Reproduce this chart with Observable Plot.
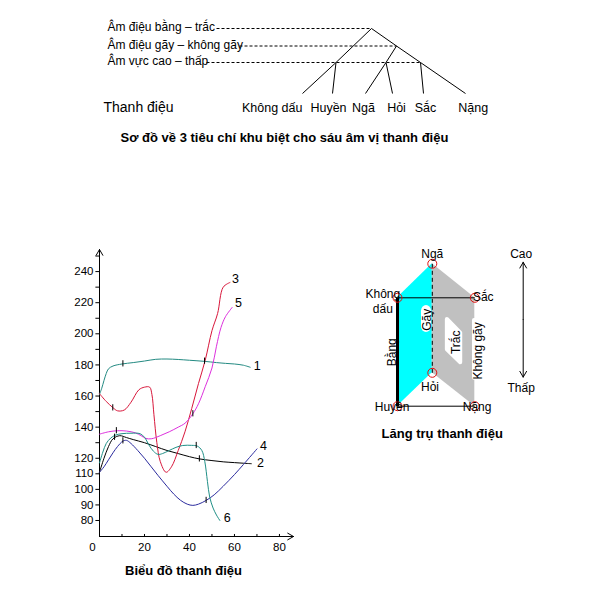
<!DOCTYPE html>
<html><head><meta charset="utf-8">
<script src="https://cdn.jsdelivr.net/npm/d3@7"></script>
<script src="https://cdn.jsdelivr.net/npm/@observablehq/plot@0.6"></script>
<style>
body{margin:0;background:#fff;}
#wrap{position:relative;width:598px;height:596px;background:#fff;}
#wrap svg{position:absolute;left:0;top:0;}
</style></head><body><div id="wrap"></div>
<script>
const FONT = "'Liberation Sans', Arial, sans-serif";

// ================= DATA =================
// --- Tree diagram (layout units) ---
const criteria = ["Âm điệu bằng – trắc", "Âm điệu gãy – không gãy", "Âm vực cao – thấp"];
const criteriaY = [28, 45.5, 62];
const criteriaTextX = 107;
const criteriaDashStart = [216, 239, 206];
const criteriaNode = ["A", "B", "C"];
const treeNodes = {A:[371,28], B:[396,45.5], C:[420,62], D:[335.5,62], E:[385.5,62],
  "Không dấu":[302,93], "Huyền":[332,93], "Ngã":[365,93], "Hỏi":[392,93], "Sắc":[423,93], "Nặng":[465,93]};
const treeEdges = [["A","B"],["B","C"],["C","Nặng"],["A","D"],["D","Không dấu"],["D","Huyền"],
  ["B","E"],["E","Ngã"],["E","Hỏi"],["C","Sắc"]];
const tones = ["Không dấu","Huyền","Ngã","Hỏi","Sắc","Nặng"];
const toneLabelX = [271.7, 328, 363, 396, 425, 472.7];
const toneLabelY = 107;
const treeTitle = "Sơ đồ về 3 tiêu chí khu biệt cho sáu âm vị thanh điệu";
const treeLabel = "Thanh điệu";

// --- Line chart ---
const seriesNames = ["1","2","3","4","5","6"];
const seriesColors = ["#238a82","#000000","#d8163a","#2b2b9e","#dd30dd","#1f8f86"];
const curve1 = [[0,161],[1,165],[2,170],[3,174.5],[4,177.5],[6,179.3],[10,180.6],[15,181.5],[20,182.5],[25,183.6],[30,183.8],[35,183.5],[40,183],[46.7,182.3],[52,181.5],[56,181],[60,180.6],[64,179.8],[67,178.5]];
const curve2 = [[0,111],[2,120],[4,127.5],[6,132.5],[9,134.5],[12,133.3],[15,132],[20,130],[25,127.5],[30,125],[35,123],[40,121],[44.4,119.6],[50,118.5],[55,117.7],[60,117.2],[64,116.8],[67.5,116.5]];
const curve3 = [[0,161.5],[3,156.5],[6,152.5],[8,150.5],[11,151],[14,156],[17.5,164],[20,165.7],[22.3,165.7],[23.3,161],[24.2,148],[25.5,130],[27,118],[29.6,111],[32,114.5],[35,125],[38,137],[41,152],[44,168],[47,183],[50,202],[52.5,213],[55,230],[58,233]];
const curve4 = [[0,111],[2,114.5],[4,119],[6,123.5],[8,127.5],[10.4,131],[12,131.5],[14,129.5],[17,125],[20,120],[23,114.5],[26,109],[30,102],[33,97],[36,93],[39,90.5],[41.5,89.7],[44,90.5],[47.4,92.9],[51,96.5],[55,102],[60,109.5],[64,116],[70,126]];
const curve5 = [[0,135.5],[4,137],[8,137.7],[12,137.5],[16,136.3],[18.5,134.5],[20.5,132.8],[23,132.5],[27,134.5],[31,137],[35,140],[38,142.5],[41.5,148.6],[44,155],[47,166],[50,178],[52,192],[54,204],[56,211],[59,217]];
const curve6 = [[0,117],[1.5,124],[3,129.5],[5,133],[7,134.8],[10,135.8],[14,136.1],[18,135.8],[20,133.5],[22,128.5],[24,124.5],[26,122.5],[28,123],[31,125],[34,127],[37,128.2],[41,128.3],[43.5,127.8],[45.5,125],[46.8,118],[48,105],[49,95],[50.5,88],[52,83.5],[53.5,80]];
const curveMarks = [["1",10.4,180.7],["1",46.7,182.4],["3",5.9,152.4],["5",7.5,137.7],["5",41.5,148.6],
  ["2",6.7,133.5],["2",44.4,119.6],["4",10.4,131.2],["4",47.4,92.9],["6",43,128.2]];
const seriesLabelPos = [["1",70.1,179.6],["2",71.6,116.8],["3",60.5,235.5],["4",72.9,128.2],["5",61.8,219.5],["6",56.8,81.3]];
const yTicks = [80,90,100,110,120,130,140,150,160,170,180,190,200,210,220,230,240,250];
const yTickLabels = [80,90,100,110,120,140,160,180,200,220,240];
const xTicks = [10,20,30,40,50,60,70,80];
const xTickLabels = [20,40,60,80];
const chartTitle = "Biểu đồ thanh điệu";
const yBase = 69.7, yTop = 254.2, xEnd = 86.25;

// --- Prism ---
const prismNodes = [["Ngã",0.45,1.314],["Không dấu",0,1],["Sắc",1,1],["Hỏi",0.45,0.308],["Huyền",0,0],["Nặng",1,0]];
const prismLabels = [["Ngã",0.45,1.41,"middle"],["Không\ndấu",-0.19,0.97,"middle"],["Sắc",1.109,1.01,"start"],
  ["Hỏi",0.42,0.18,"middle"],["Huyền",-0.07,0,"end"],["Nặng",1.03,0,"start"],["Cao",1.6,1.406,"middle"],["Thấp",1.6,0.175,"middle"]];
const faceLabels = [["Bằng",-0.069,0.498],["Gãy",0.388,0.797],["Trắc",0.755,0.59],["Không gãy",1.041,0.51]];
const prismTitle = "Lăng trụ thanh điệu";

// ================= BUILD =================
const wrap = document.getElementById("wrap");
const style = {background:"transparent", fontFamily:FONT, overflow:"visible", color:"black"};

// ---- Tree plot ----
const treeEdgeRows = treeEdges.map(([a,b]) => ({x1:treeNodes[a][0], y1:treeNodes[a][1], x2:treeNodes[b][0], y2:treeNodes[b][1]}));
const dashRows = criteria.map((c,i) => ({x1:criteriaDashStart[i], x2:treeNodes[criteriaNode[i]][0], y:criteriaY[i]}));
const tree = Plot.plot({
  width:598, height:596, margin:0, style,
  x:{domain:[0,598], range:[0,598], axis:null},
  y:{domain:[0,596], range:[0,596], axis:null},
  marks:[
    Plot.link(dashRows, {x1:"x1", x2:"x2", y1:"y", y2:"y", stroke:"black", strokeDasharray:"3,2", strokeWidth:1}),
    Plot.link(treeEdgeRows, {x1:"x1", y1:"y1", x2:"x2", y2:"y2", stroke:"black", strokeWidth:1}),
    Plot.text(criteria, {x:criteriaTextX, y:(d,i)=>criteriaY[i], dy:-1, text:d=>d, textAnchor:"start", fontSize:12}),
    Plot.text(tones, {x:(d,i)=>toneLabelX[i], y:toneLabelY, text:d=>d, fontSize:12.5}),
    Plot.text([treeLabel], {x:103, y:toneLabelY, text:d=>d, textAnchor:"start", fontSize:14}),
    Plot.text([treeTitle], {x:284, y:137, text:d=>d, fontSize:13, fontWeight:"bold"})
  ]
});
wrap.appendChild(tree);

// ---- Line chart ----
const allCurves = [curve1,curve2,curve3,curve4,curve5,curve6];
const rows = allCurves.flatMap((c,i) => c.map(([x,y]) => ({s:seriesNames[i], x, y})));
const colorOf = s => seriesColors[seriesNames.indexOf(s)];
const chart = Plot.plot({
  width:598, height:596, marginLeft:99, marginRight:305, marginTop:249, marginBottom:60, style,
  x:{domain:[0,xEnd], axis:null},
  y:{domain:[yBase,yTop], axis:null},
  marks:[
    Plot.ruleY(yTicks, {y:d=>d, x1:-1.6, x2:0, stroke:"black"}),
    Plot.text(yTickLabels, {y:d=>d, x:0, dx:-6, text:d=>String(d), textAnchor:"end", fontSize:11.5}),
    Plot.ruleX(xTicks, {x:d=>d, y1:yBase, y2:yBase+1.3, stroke:"black"}),
    Plot.text(xTickLabels, {x:d=>d, y:yBase, dy:11, text:d=>String(d), fontSize:11.5}),
    Plot.text([0], {x:0, y:yBase, dx:-7, dy:11, text:d=>String(d), fontSize:11.5}),
    Plot.arrow([{x1:0,y1:yBase,x2:xEnd,y2:yBase},{x1:0,y1:yBase,x2:0,y2:yTop}],
      {x1:"x1", y1:"y1", x2:"x2", y2:"y2", stroke:"black", strokeWidth:1, headLength:10}),
    Plot.line(rows, {x:"x", y:"y", z:"s", stroke:d=>colorOf(d.s), curve:"catmull-rom", strokeWidth:1}),
    Plot.ruleX(curveMarks, {x:d=>d[1], y1:d=>d[2]-2, y2:d=>d[2]+2, stroke:"black", strokeWidth:1}),
    Plot.text(seriesLabelPos, {x:d=>d[1], y:d=>d[2], text:d=>d[0], fontSize:12.5}),
    Plot.text([chartTitle], {frameAnchor:"bottom", dx:-13, dy:38, text:d=>d, fontSize:13, fontWeight:"bold"})
  ]
});
wrap.appendChild(chart);

// ---- Prism ----
const P = Object.fromEntries(prismNodes.map(([n,x,y]) => [n,[x,y]]));
const cyanFace = [{x:P["Không dấu"][0], y1:P["Huyền"][1], y2:P["Không dấu"][1]}, {x:P["Ngã"][0], y1:P["Hỏi"][1], y2:P["Ngã"][1]}];
const grayFace = [{x:P["Ngã"][0], y1:P["Hỏi"][1], y2:P["Ngã"][1]}, {x:P["Sắc"][0], y1:P["Nặng"][1], y2:P["Sắc"][1]}];
const tracBox = [{x:0.645, y1:0.52, y2:0.80}, {x:0.818, y1:0.40, y2:0.675}];
const whiteBoxes = [{x1:-0.116,x2:-0.022,y1:0.36,y2:0.636,r:1},{x1:0.31,x2:0.44,y1:0.68,y2:0.93,r:6},{x1:0.97,x2:1.113,y1:0.24,y2:0.81,r:2}];
const prism = Plot.plot({
  width:598, height:596, marginLeft:397, marginRight:123.7, marginTop:297.3, marginBottom:190.3, style,
  x:{domain:[0,1], axis:null},
  y:{domain:[0,1], axis:null},
  marks:[
    Plot.areaY(cyanFace, {x:"x", y1:"y1", y2:"y2", fill:"#00ffff"}),
    Plot.areaY(grayFace, {x:"x", y1:"y1", y2:"y2", fill:"#c0c0c0"}),
    Plot.areaY(tracBox, {x:"x", y1:"y1", y2:"y2", fill:"white", stroke:"white", strokeWidth:4, strokeLinejoin:"round"}),
    Plot.rect(whiteBoxes.filter(b=>b.r===1), {x1:"x1",x2:"x2",y1:"y1",y2:"y2", fill:"white"}),
    Plot.rect(whiteBoxes.filter(b=>b.r===6), {x1:"x1",x2:"x2",y1:"y1",y2:"y2", fill:"white", rx:6}),
    Plot.rect(whiteBoxes.filter(b=>b.r===2), {x1:"x1",x2:"x2",y1:"y1",y2:"y2", fill:"white", rx:2}),
    Plot.link([["Không dấu","Sắc"],["Huyền","Nặng"]], {x1:d=>P[d[0]][0], y1:d=>P[d[0]][1], x2:d=>P[d[1]][0], y2:d=>P[d[1]][1], stroke:"black", strokeWidth:1}),
    Plot.link([["Huyền","Không dấu"]], {x1:d=>P[d[0]][0], y1:d=>P[d[0]][1], x2:d=>P[d[1]][0], y2:d=>P[d[1]][1], stroke:"black", strokeWidth:3}),
    Plot.link([["Hỏi","Ngã"]], {x1:d=>P[d[0]][0], y1:d=>P[d[0]][1], x2:d=>P[d[1]][0], y2:d=>P[d[1]][1], stroke:"black", strokeWidth:1, strokeDasharray:"4,3"}),
    Plot.dot(prismNodes, {x:d=>d[1], y:d=>d[2], r:4.5, stroke:"#e01010", fill:"none", strokeWidth:1}),
    Plot.text(prismLabels, {x:d=>d[1], y:d=>d[2], text:d=>d[0], textAnchor:d=>d[3], fontSize:12, lineHeight:1.2}),
    Plot.text(faceLabels, {x:d=>d[1], y:d=>d[2], text:d=>d[0], rotate:-90, fontSize:12}),
    Plot.arrow([{x:1.626,y1:0.8,y2:1.328},{x:1.626,y1:0.8,y2:0.268}], {x1:"x", x2:"x", y1:"y1", y2:"y2", stroke:"black", strokeWidth:1, headLength:10}),
    Plot.text([prismTitle], {x:0.578, y:-0.255, text:d=>d, fontSize:13, fontWeight:"bold"})
  ]
});
wrap.appendChild(prism);
</script></body></html>
